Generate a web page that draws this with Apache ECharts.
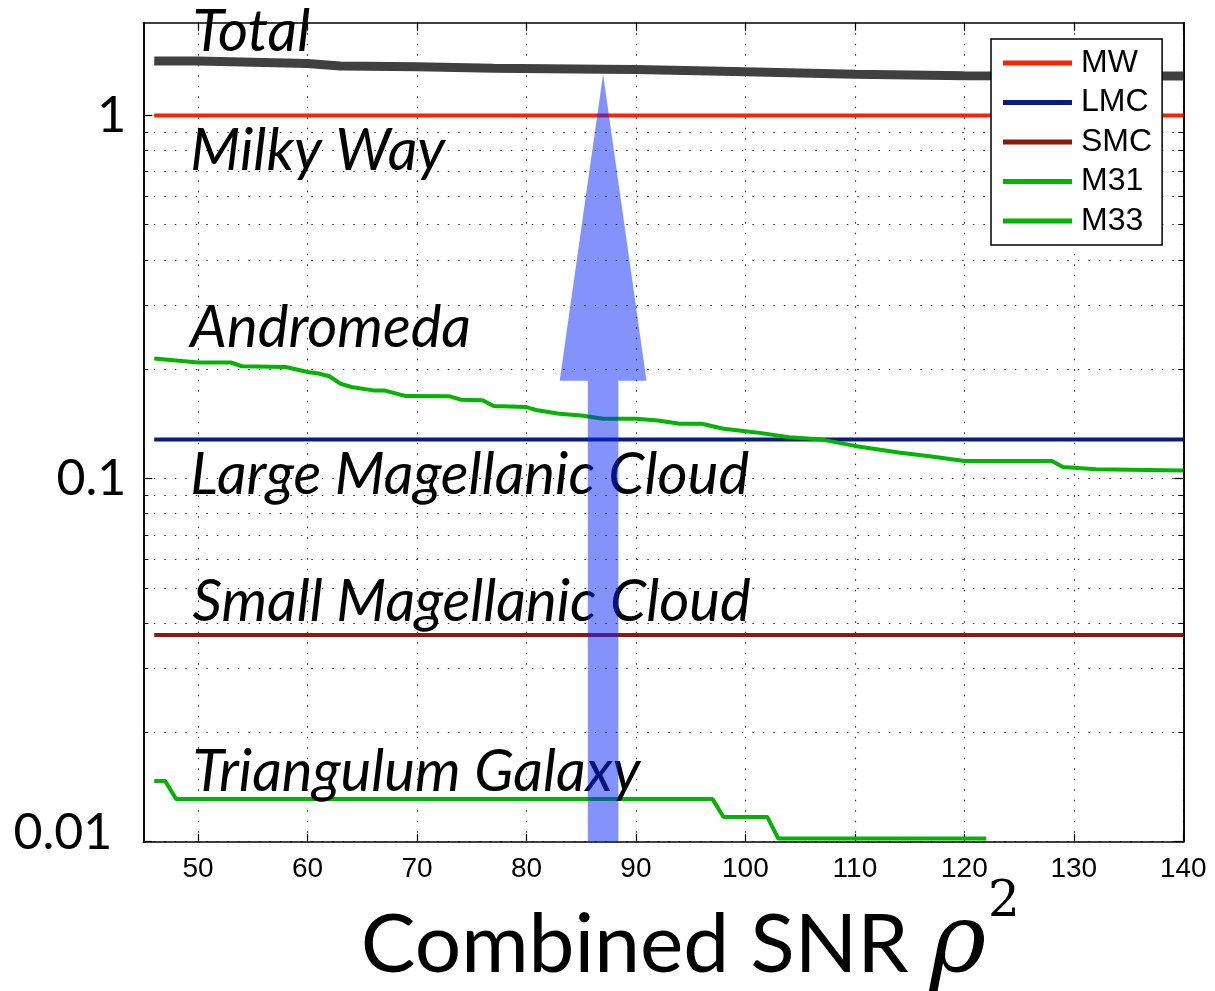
<!DOCTYPE html>
<html>
<head>
<meta charset="utf-8">
<script src="https://cdn.jsdelivr.net/npm/echarts@6/dist/echarts.min.js"></script>
<style>
html,body{margin:0;padding:0;background:#fff;}
#chart{width:1215px;height:991px;}
</style>
</head>
<body>
<div id="chart"></div>
<script>
// ---------- data ----------
const xTicks = [50, 60, 70, 80, 90, 100, 110, 120, 130, 140];
const yMajor = [0.01, 0.1, 1];
const yMinor = [0.02, 0.03, 0.04, 0.05, 0.06, 0.07, 0.08, 0.09, 0.2, 0.3, 0.4, 0.5, 0.6, 0.7, 0.8, 0.9];

const totalX = [46, 50, 60, 63, 70, 77, 87, 90, 100, 110, 120, 130, 140];
const totalY = [1.413, 1.411, 1.389, 1.367, 1.361, 1.349, 1.341, 1.337, 1.318, 1.299, 1.285, 1.284, 1.283];

const mwX = [46, 140];
const mwY = [1.0, 1.0];
const lmcX = [46, 140];
const lmcY = [0.128, 0.128];
const smcX = [46, 140];
const smcY = [0.0371, 0.0371];

const m31X = [46, 50, 53, 54, 58, 60, 61, 62, 63, 64, 66, 67, 69, 73, 74, 76, 77, 80, 81, 83, 85, 87, 90, 92, 94, 96, 98, 101, 104, 107, 110, 114, 117, 120, 128, 129, 132, 140];
const m31Y = [0.214, 0.2087, 0.2087, 0.2038, 0.2029, 0.1965, 0.1947, 0.1913, 0.1825, 0.1787, 0.1749, 0.1749, 0.1687, 0.1684, 0.1649, 0.1643, 0.1583, 0.1573, 0.1541, 0.1508, 0.1492, 0.1461, 0.1461, 0.1445, 0.1415, 0.1415, 0.1371, 0.134, 0.130, 0.128, 0.123, 0.118, 0.115, 0.1118, 0.1118, 0.1076, 0.1061, 0.1052];

const m33X = [46, 47, 48, 97, 98, 102, 103, 122];
const m33Y = [0.0147, 0.0147, 0.0131, 0.0131, 0.0117, 0.0117, 0.0102, 0.0102];

const annotNames = ['Total', 'Milky Way', 'Andromeda', 'Large Magellanic Cloud', 'Small Magellanic Cloud', 'Triangulum Galaxy'];
const annotX = [49.5, 49.3, 49.3, 49.3, 49.5, 49.5];
const annotY = [1.69, 0.797, 0.26, 0.102, 0.0457, 0.01555];

const arrowX = 87;
const arrowFrom = 0.01;
const arrowHeadBase = 0.186;
const arrowTip = 1.3;

const zip = (xs, ys) => xs.map((x, i) => [x, ys[i]]);

// ---------- chart ----------
const chart = echarts.init(document.getElementById('chart'), null, {renderer: 'canvas'});

const dotted = {color: '#333', width: 1.2, type: [1.5, 9]};
const axisLineStyle = {show: true, lineStyle: {color: '#000', width: 1.5}};

const option = {
  animation: false,
  backgroundColor: '#fff',
  grid: {left: 143.3, right: 31.7, top: 22.7, bottom: 149.3, containLabel: false, outerBoundsMode: 'none'},
  legend: {
    orient: 'vertical',
    left: 991, top: 39,
    data: ['MW', 'LMC', 'SMC', 'M31', 'M33'],
    icon: 'rect',
    backgroundColor: '#fff',
    borderColor: '#000',
    borderWidth: 1.5,
    padding: [8, 10, 8, 12],
    itemWidth: 69,
    itemHeight: 5,
    itemGap: 7.5,
    textStyle: {fontFamily: 'Liberation Sans', fontSize: 32, color: '#000', padding: [0, 0, 0, 4]}
  },
  xAxis: [
    {
      type: 'value', position: 'bottom', min: 45, max: 140,
      axisLine: axisLineStyle,
      axisTick: {inside: true, length: 8, customValues: xTicks, lineStyle: {color: '#000', width: 1.2}},
      axisLabel: {customValues: xTicks, fontFamily: 'Liberation Sans', fontSize: 28, color: '#000', margin: 14},
      splitLine: {show: true, lineStyle: dotted},
      name: 'Combined SNR {rho|ρ}{sup|2}',
      nameLocation: 'middle',
      nameGap: 36,
      nameMoveOverlap: false,
      nameTextStyle: {
        fontFamily: 'Lato', fontSize: 82, color: '#000', padding: [0, 0, 0, 54],
        rich: {
          rho: {fontFamily: 'DejaVu Serif', fontStyle: 'italic', fontSize: 96, color: '#000'},
          sup: {fontFamily: 'DejaVu Serif', fontSize: 50, color: '#000', verticalAlign: 'top', padding: [0, 0, 86, 2]}
        }
      }
    },
    {
      type: 'value', position: 'top', min: 45, max: 140,
      axisLine: axisLineStyle,
      axisTick: {inside: true, length: 8, customValues: xTicks, lineStyle: {color: '#000', width: 1.2}},
      axisLabel: {show: false},
      splitLine: {show: false}
    }
  ],
  yAxis: [
    {
      type: 'log', logBase: 10, position: 'left', min: 0.01, max: 1.8,
      axisLine: axisLineStyle,
      axisTick: {inside: true, length: 9, customValues: yMajor, lineStyle: {color: '#000', width: 1.2}},
      axisLabel: {
        customValues: yMajor,
        fontFamily: 'Lato', fontSize: 50, color: '#000', margin: 17,
        formatter: function (v) { return v < 0.05 ? '{low|0.01}' : String(v); },
        rich: {low: {fontFamily: 'Lato', fontSize: 50, color: '#000', padding: [0, 14, 18, 0]}}
      },
      splitLine: {show: true, lineStyle: dotted}
    },
    {
      type: 'log', logBase: 10, position: 'left', min: 0.01, max: 1.8,
      axisLine: axisLineStyle,
      axisTick: {inside: true, length: 5, customValues: yMinor, lineStyle: {color: '#000', width: 1}},
      axisLabel: {show: false},
      splitLine: {show: true, lineStyle: dotted}
    },
    {
      type: 'log', logBase: 10, position: 'right', min: 0.01, max: 1.8,
      axisLine: axisLineStyle,
      axisTick: {inside: true, length: 9, customValues: yMajor, lineStyle: {color: '#000', width: 1.2}},
      axisLabel: {show: false},
      splitLine: {show: false}
    },
    {
      type: 'log', logBase: 10, position: 'right', min: 0.01, max: 1.8,
      axisLine: axisLineStyle,
      axisTick: {inside: true, length: 5, customValues: yMinor, lineStyle: {color: '#000', width: 1}},
      axisLabel: {show: false},
      splitLine: {show: false}
    }
  ],
  series: [
    {name: 'Total', type: 'line', data: zip(totalX, totalY), symbol: 'none', lineStyle: {color: '#404040', width: 9}, itemStyle: {color: '#404040'}, z: 3},
    {name: 'MW', type: 'line', data: zip(mwX, mwY), symbol: 'none', lineStyle: {color: '#ff2200', width: 4}, itemStyle: {color: '#ff2200'}, z: 3},
    {name: 'LMC', type: 'line', data: zip(lmcX, lmcY), symbol: 'none', lineStyle: {color: '#0a1a7e', width: 4}, itemStyle: {color: '#0a1a7e'}, z: 3},
    {name: 'SMC', type: 'line', data: zip(smcX, smcY), symbol: 'none', lineStyle: {color: '#8c1a0c', width: 4}, itemStyle: {color: '#8c1a0c'}, z: 3},
    {name: 'M31', type: 'line', data: zip(m31X, m31Y), symbol: 'none', lineStyle: {color: '#00b400', width: 4}, itemStyle: {color: '#00b400'}, z: 3},
    {name: 'M33', type: 'line', data: zip(m33X, m33Y), symbol: 'none', lineStyle: {color: '#00b400', width: 4}, itemStyle: {color: '#00b400'}, z: 3},
    {
      name: 'labels', type: 'scatter', symbolSize: 0, silent: true, z: 4,
      itemStyle: {opacity: 1},
      data: annotNames.map((n, i) => ({name: n, value: [annotX[i], annotY[i]]})),
      label: {
        show: true, position: 'right', distance: 0, formatter: '{b}',
        fontFamily: 'Lato', fontStyle: 'italic', fontSize: 58, color: '#000', opacity: 1
      },
      clip: false
    },
    {
      name: 'arrow', type: 'custom', z: 10, silent: true, clip: true,
      data: [[arrowX, arrowFrom, arrowHeadBase, arrowTip]],
      encode: {x: 0, y: [1, 3]},
      renderItem: function (params, api) {
        const x = api.value(0);
        const b = api.coord([x, api.value(1)]);
        const h = api.coord([x, api.value(2)]);
        const t = api.coord([x, api.value(3)]);
        const sw = 15.3, hw = 43.4;
        return {
          type: 'polygon',
          shape: {points: [[b[0] - sw, b[1]], [b[0] - sw, h[1]], [b[0] - hw, h[1]], [t[0], t[1]], [b[0] + hw, h[1]], [b[0] + sw, h[1]], [b[0] + sw, b[1]]]},
          style: {fill: 'rgba(10,40,250,0.5)'}
        };
      }
    }
  ]
};
chart.setOption(option);
</script>
</body>
</html>
